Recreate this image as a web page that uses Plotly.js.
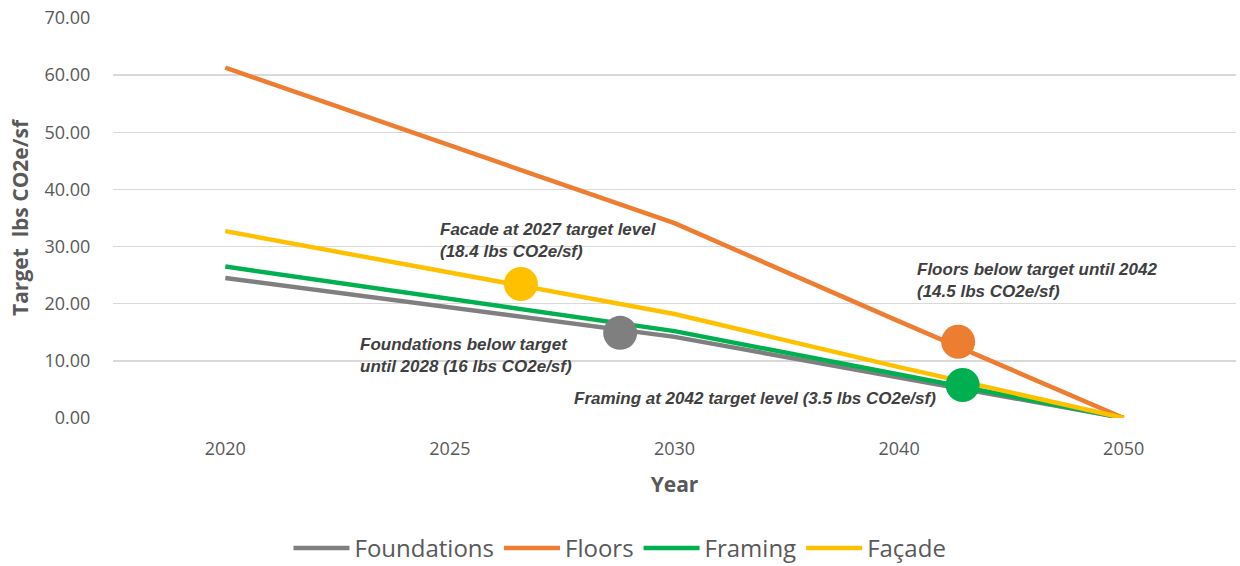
<!DOCTYPE html>
<html>
<head>
<meta charset="utf-8">
<script src="https://cdn.plot.ly/plotly-3.0.1.min.js"></script>
<style>html,body{margin:0;padding:0;background:#fff;}#chart{width:1240px;height:566px;}</style>
</head>
<body>
<div id="chart"></div>
<script>
// Categories (x axis, evenly spaced)
const years = ['2020', '2025', '2030', '2040', '2050'];
// Series values (lbs CO2e/sf)
const foundations = [24.5, 19.3, 14.2, 7.1, 0];
const floors      = [61.3, 47.8, 34.1, 16.9, 0];
const framing     = [26.5, 20.8, 15.2, 7.6, 0];
const facade      = [32.7, 25.5, 18.2, 8.9, 0];
// Highlight points (position along category axis, value)
const facadePointX = [1.316], facadePointY = [23.45];
const foundPointX  = [1.758], foundPointY  = [14.9];
const floorsPointX = [3.263], floorsPointY = [13.35];
const framPointX   = [3.283], framPointY   = [5.78];
// Y tick labels
const yTickVals = [0, 10, 20, 30, 40, 50, 60, 70];
const yTickText = ['0.00', '10.00', '20.00', '30.00', '40.00', '50.00', '60.00', '70.00'];

const colors = {found: '#7F7F7F', floors: '#ED7D31', framing: '#00B050', facade: '#FFC000'};
const idx = years.map((_, i) => i);

function line(name, y, color) {
  return {x: idx, y: y, name: name, type: 'scatter', mode: 'lines',
    line: {color: color, width: 4.5}, hoverinfo: 'skip'};
}
function point(x, y, color) {
  return {x: x, y: y, type: 'scatter', mode: 'markers', showlegend: false,
    marker: {color: color, size: 34, line: {width: 0}}, hoverinfo: 'skip'};
}

const data = [
  line('Foundations', foundations, colors.found),
  line('Floors', floors, colors.floors),
  line('Framing', framing, colors.framing),
  line('Façade', facade, colors.facade),
  point(facadePointX, facadePointY, colors.facade),
  point(foundPointX, foundPointY, colors.found),
  point(floorsPointX, floorsPointY, colors.floors),
  point(framPointX, framPointY, colors.framing)
];

const annFont = {family: 'Liberation Sans, Arial, sans-serif', size: 17, color: '#404040'};
function ann(x, y, text) {
  return {x: x, y: y, xref: 'x', yref: 'y', text: '<b><i>' + text + '</i></b>',
    showarrow: false, xanchor: 'left', yanchor: 'middle', align: 'left', font: annFont};
}

const layout = {
  width: 1240, height: 566,
  margin: {l: 113, r: 4, t: 18, b: 148},
  paper_bgcolor: '#ffffff', plot_bgcolor: '#ffffff',
  font: {family: 'Open Sans, sans-serif', color: '#595959'},
  xaxis: {
    range: [-0.5, 4.5], tickvals: idx, ticktext: years,
    showgrid: false, zeroline: false, showline: false,
    ticks: 'outside', ticklen: 14, tickcolor: 'rgba(0,0,0,0)',
    tickfont: {size: 18, color: '#595959'},
    title: {text: '<b>Year</b>', font: {size: 21, color: '#595959'}, standoff: 18},
    automargin: false
  },
  yaxis: {
    range: [0, 70], tickvals: yTickVals, ticktext: yTickText,
    showgrid: true, gridcolor: '#D9D9D9', gridwidth: 1.5, zeroline: false, showline: false,
    ticks: 'outside', ticklen: 18, tickcolor: 'rgba(0,0,0,0)',
    tickfont: {size: 18, color: '#595959'},
    title: {text: '<b>Target \u00A0lbs CO2e/sf</b>', font: {size: 21, color: '#595959'}, standoff: 10},
    automargin: false
  },
  legend: {
    orientation: 'h', x: 0.5, xref: 'container', xanchor: 'center',
    y: 0.031, yref: 'container', yanchor: 'middle',
    font: {size: 24, color: '#595959'}, itemwidth: 56, traceorder: 'normal'
  },
  annotations: [
    ann(0.948, 31.0, 'Facade at 2027 target level<br>(18.4 lbs CO2e/sf)'),
    ann(0.592, 10.94, 'Foundations below target<br>until 2028 (16 lbs CO2e/sf)'),
    ann(1.544, 3.5, 'Framing at 2042 target level (3.5 lbs CO2e/sf)'),
    ann(3.071, 23.98, 'Floors below target until 2042<br>(14.5 lbs CO2e/sf)')
  ],
  showlegend: true
};

Plotly.newPlot('chart', data, layout, {staticPlot: true, displayModeBar: false});
</script>
</body>
</html>
